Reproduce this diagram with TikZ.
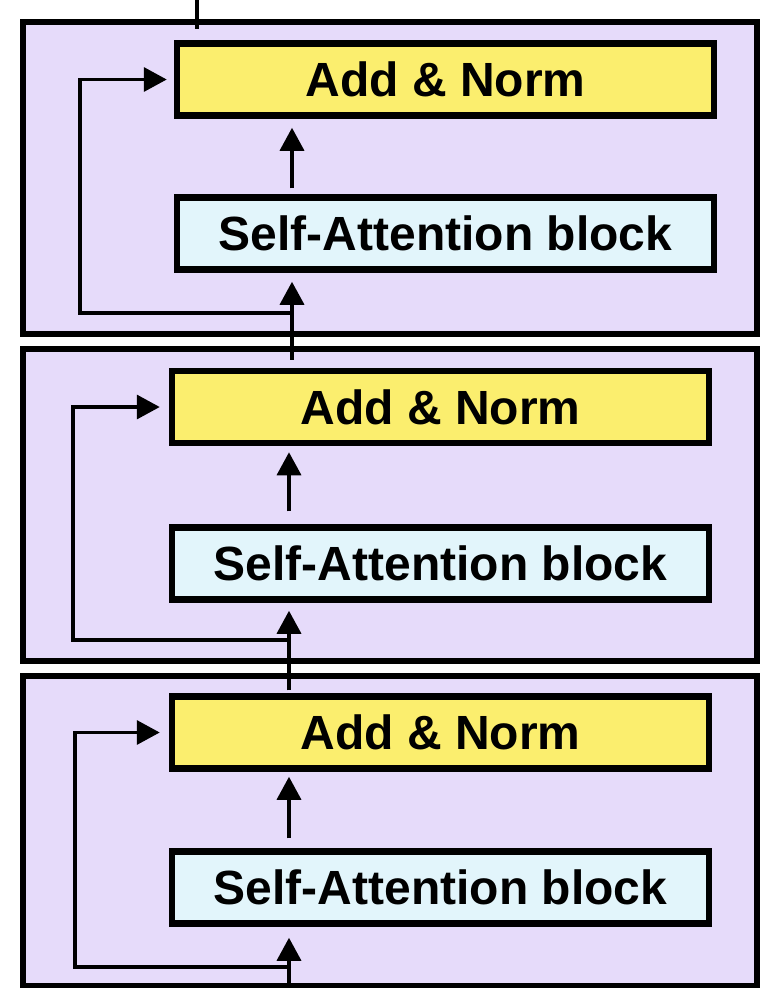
\documentclass[tikz,border=0pt]{standalone}
\usepackage{fontspec}
\setmainfont{Liberation Sans}
\usetikzlibrary{arrows.meta}
\definecolor{lav}{HTML}{E6DBFA}
\definecolor{ylw}{HTML}{FBEE6E}
\definecolor{lblue}{HTML}{E2F5FB}
\tikzset{
  outerbox/.style={draw=black, line width=6.5pt, fill=lav, minimum width=734pt, inner sep=0pt},
  innerbox/.style={draw=black, line width=6.5pt, minimum width=537pt, minimum height=72pt, inner sep=0pt,
    font=\fontsize{48}{52}\selectfont\bfseries},
  anbox/.style={innerbox, fill=ylw},
  sabox/.style={innerbox, fill=lblue},
  conn/.style={draw=black, line width=3.5pt},
  arr/.style={conn, -{Triangle[length=23pt,width=24pt]}},
}
\begin{document}
\begin{tikzpicture}[x=1pt,y=-1pt]
\useasboundingbox (0,0) rectangle (760,988);
% outer blocks
\node[outerbox, minimum height=312pt] (box1) at (390,178) {};
\node[outerbox, minimum height=312pt] (box2) at (390,505) {};
\node[outerbox, minimum height=310pt] (box3) at (390,831) {};
% inner nodes
\node[anbox] (an1) at (445.5,79.5) {Add \& Norm};
\node[sabox] (sa1) at (445.5,233.5) {Self-Attention block};
\node[anbox] (an2) at (440.5,407) {Add \& Norm};
\node[sabox] (sa2) at (440.5,563.5) {Self-Attention block};
\node[anbox] (an3) at (440.5,732.5) {Add \& Norm};
\node[sabox] (sa3) at (440.5,887.5) {Self-Attention block};
% helper coordinates
\coordinate (top) at (197,0);
\coordinate (x1) at (292,0);
\coordinate (x2) at (289,0);
\coordinate (r1) at (292,313);
\coordinate (r2) at (289,640);
\coordinate (r3) at (289,967);
\coordinate (l1) at (80,0);
\coordinate (l2) at (73,0);
\coordinate (l3) at (75,0);
\coordinate (bot) at (289,988);
% top output line
\draw[conn] (top) -- ([yshift=11pt]an1.north -| top);
% block 1
\draw[arr, shorten <=6pt, shorten >=9pt] (sa1.north -| x1) -- (an1.south -| x1);
\draw[arr, shorten <=8pt, shorten >=9pt] (an2.north -| x1) -- (sa1.south -| x1);
\draw[arr, shorten >=7pt] (r1) -- (r1 -| l1) |- (an1.west);
% block 2
\draw[arr, shorten <=13pt, shorten >=6pt] (sa2.north -| x2) -- (an2.south -| x2);
\draw[arr, shorten <=3pt, shorten >=8pt] (an3.north -| x2) -- (sa2.south -| x2);
\draw[arr, shorten >=9pt] (r2) -- (r2 -| l2) |- (an2.west);
% block 3
\draw[arr, shorten <=10pt, shorten >=5pt] (sa3.north -| x2) -- (an3.south -| x2);
\draw[arr, shorten >=11pt] (bot) -- (sa3.south -| x2);
\draw[arr, shorten >=9pt] (r3) -- (r3 -| l3) |- (an3.west);
\end{tikzpicture}
\end{document}
